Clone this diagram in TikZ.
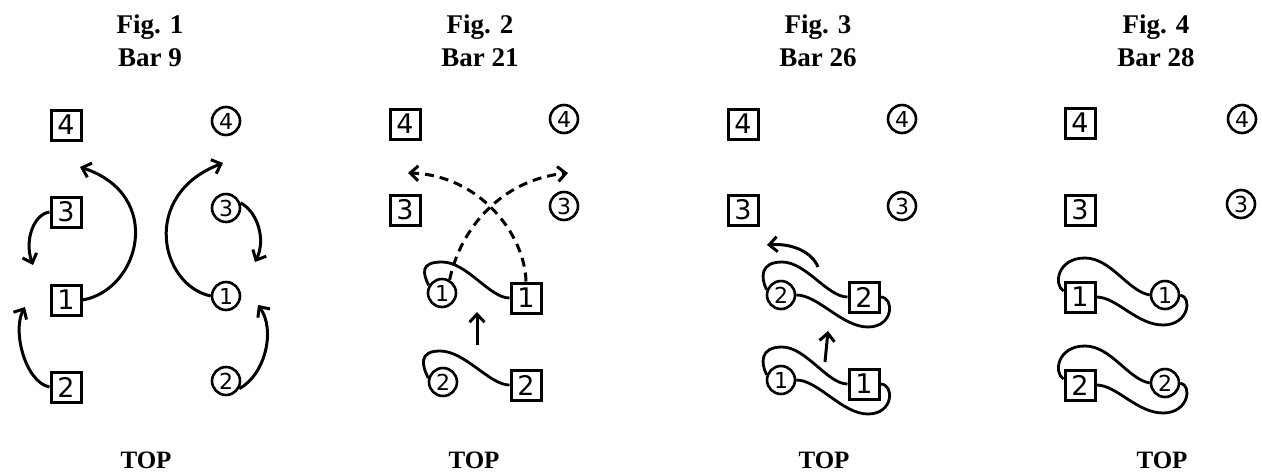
\documentclass[tikz,border=0pt]{standalone}
\usepackage{fontspec}
\setmainfont{Liberation Serif}
\newfontfamily\hand{DejaVu Sans}
\usetikzlibrary{arrows.meta,calc}
\begin{document}
\begin{tikzpicture}[x=1pt,y=-1pt,
  sq/.style={draw, line width=3pt, minimum size=30pt, inner sep=0pt, font=\hand\fontsize{27}{27}\selectfont},
  ci/.style={draw, circle, line width=2.6pt, minimum size=28pt, inner sep=0pt, font=\hand\fontsize{22}{22}\selectfont},
  arr/.style={line width=3pt, -{Straight Barb[length=8pt,width=15pt]}},
  dsh/.style={arr, dash pattern=on 9pt off 6pt},
  rope/.style={line width=2.8pt},
  ttl/.style={anchor=base, font=\bfseries\fontsize{27}{27}\selectfont},
  topl/.style={anchor=base, font=\bfseries\fontsize{25}{25}\selectfont}]
\fill[white] (0,0) rectangle (1262,475);
\useasboundingbox (0,0) rectangle (1262,475);

% titles
\node[ttl] (t1a) at (150,33) {Fig. 1};
\node[ttl] (t1b) at (150,66) {Bar 9};
\node[ttl] (t2a) at (480,33) {Fig. 2};
\node[ttl] (t2b) at (480,66) {Bar 21};
\node[ttl] (t3a) at (818,33) {Fig. 3};
\node[ttl] (t3b) at (818,66) {Bar 26};
\node[ttl] (t4a) at (1156,33) {Fig. 4};
\node[ttl] (t4b) at (1156,66) {Bar 28};
\node[topl] (top1) at (146,468) {TOP};
\node[topl] (top2) at (474,468) {TOP};
\node[topl] (top3) at (824,468) {TOP};
\node[topl] (top4) at (1162,468) {TOP};

% ---------- Fig 1 ----------
\node[sq] (a1s4) at (66,125) {4};
\node[ci] (a1c4) at (226,121) {4};
\node[sq] (a1s3) at (66,212) {3};
\node[ci] (a1c3) at (226,208) {3};
\node[sq] (a1s1) at (66,300) {1};
\node[ci] (a1c1) at (226,296) {1};
\node[sq] (a1s2) at (66,387) {2};
\node[ci] (a1c2) at (226,381) {2};
\coordinate (a1e1) at (80,167);
\coordinate (a1e2) at (33,265);
\coordinate (a1e3) at (25,307);
\coordinate (a1e4) at (223,163);
\coordinate (a1e5) at (255,262);
\coordinate (a1e6) at (258,305);
\draw[arr] (a1s1.east) .. controls (140,290) and (165,195) .. (a1e1);
\draw[arr] (a1s3.west) .. controls (34,214) and (24,240) .. (a1e2);
\draw[arr] (a1s2.west) .. controls (25,382) and (12,330) .. (a1e3);
\draw[arr] (a1c1.west) .. controls (160,285) and (140,195) .. (a1e4);
\draw[arr] (a1c3.20) .. controls (258,212) and (266,240) .. (a1e5);
\draw[arr] (a1c2.-30) .. controls (265,375) and (276,330) .. (a1e6);

% ---------- Fig 2 ----------
\node[sq] (b1s4) at (405,124) {4};
\node[ci] (b1c4) at (564,119) {4};
\node[sq] (b1s3) at (405,210) {3};
\node[ci] (b1c3) at (564,206) {3};
\node[ci] (b1c1) at (442,293) {1};
\node[sq] (b1s1) at (526,298) {1};
\node[ci] (b1c2) at (443,382) {2};
\node[sq] (b1s2) at (526,385) {2};
\coordinate (b2e1) at (408,173);
\coordinate (b2e2) at (568,173);
\coordinate (b2u0) at (477,345);
\coordinate (b2u1) at (477,312);
\draw[dsh] (b1s1.north) .. controls (525,235) and (480,175) .. (b2e1);
\draw[dsh] (b1c1.60) .. controls (460,230) and (500,180) .. (b2e2);
\draw[arr] (b2u0) -- (b2u1);
\draw[rope] (b1s1.west) .. controls +(-20,0) and +(25,0) .. ($(b1c1)+(0,-31)$)
  .. controls +(-22,0) and +(-6,-12) .. (b1c1.150);
\draw[rope] (b1s2.west) .. controls +(-20,0) and +(25,0) .. ($(b1c2)+(-3,-31)$)
  .. controls +(-22,0) and +(-6,-12) .. (b1c2.165);

% ---------- Fig 3 ----------
\node[sq] (c3s4) at (743,124) {4};
\node[ci] (c3c4) at (902,119) {4};
\node[sq] (c3s3) at (743,210) {3};
\node[ci] (c3c3) at (902,206) {3};
\node[ci] (c3c2) at (781,295) {2};
\node[sq] (c3s2) at (864,297) {2};
\node[ci] (c3c1) at (781,380) {1};
\node[sq] (c3s1) at (864,384) {1};
\coordinate (c3a0) at (818,267);
\coordinate (c3a1) at (767,245);
\coordinate (c3u0) at (825,362);
\coordinate (c3u1) at (828,331);
\draw[arr] (c3a0) .. controls (812,252) and (792,243) .. (c3a1);
\draw[arr] (c3u0) -- (c3u1);
\draw[rope] (c3s2.west) .. controls +(-20,0) and +(24,0) .. ($(c3c2)+(1,-33)$)
  .. controls +(-22,0) and +(-6,-12) .. (c3c2.160);
\draw[rope] (c3c2.east) .. controls +(22,0) and +(-26,0) .. ($(c3s2)+(4,30)$)
  .. controls +(26,0) and +(14,0) .. (c3s2.east);
\draw[rope] (c3s1.west) .. controls +(-20,0) and +(24,0) .. ($(c3c1)+(1,-33)$)
  .. controls +(-22,0) and +(-6,-12) .. (c3c1.160);
\draw[rope] (c3c1.east) .. controls +(22,0) and +(-26,0) .. ($(c3s1)+(4,30)$)
  .. controls +(26,0) and +(14,0) .. (c3s1.east);

% ---------- Fig 4 ----------
\node[sq] (d1s4) at (1080,123) {4};
\node[ci] (d1c4) at (1242,119) {4};
\node[sq] (d1s3) at (1080,210) {3};
\node[ci] (d1c3) at (1241,204) {3};
\node[sq] (d1s1) at (1080,297) {1};
\node[ci] (d1c1) at (1165,295) {1};
\node[sq] (d1s2) at (1080,385) {2};
\node[ci] (d1c2) at (1165,383) {2};
\draw[rope] (d1c1.west) .. controls +(-22,-4) and +(26,0) .. ($(d1s1)+(5,-39)$)
  .. controls +(-28,0) and +(-10,-6) .. ($(d1s1.west)+(0,-6)$);
\draw[rope] (d1s1.east) .. controls +(20,0) and +(-26,0) .. ($(d1c1)+(-2,30)$)
  .. controls +(26,0) and +(12,2) .. (d1c1.east);
\draw[rope] (d1c2.west) .. controls +(-22,-4) and +(26,0) .. ($(d1s2)+(5,-39)$)
  .. controls +(-28,0) and +(-10,-6) .. ($(d1s2.west)+(0,-6)$);
\draw[rope] (d1s2.east) .. controls +(20,0) and +(-26,0) .. ($(d1c2)+(-2,30)$)
  .. controls +(26,0) and +(12,2) .. (d1c2.east);
\end{tikzpicture}
\end{document}
